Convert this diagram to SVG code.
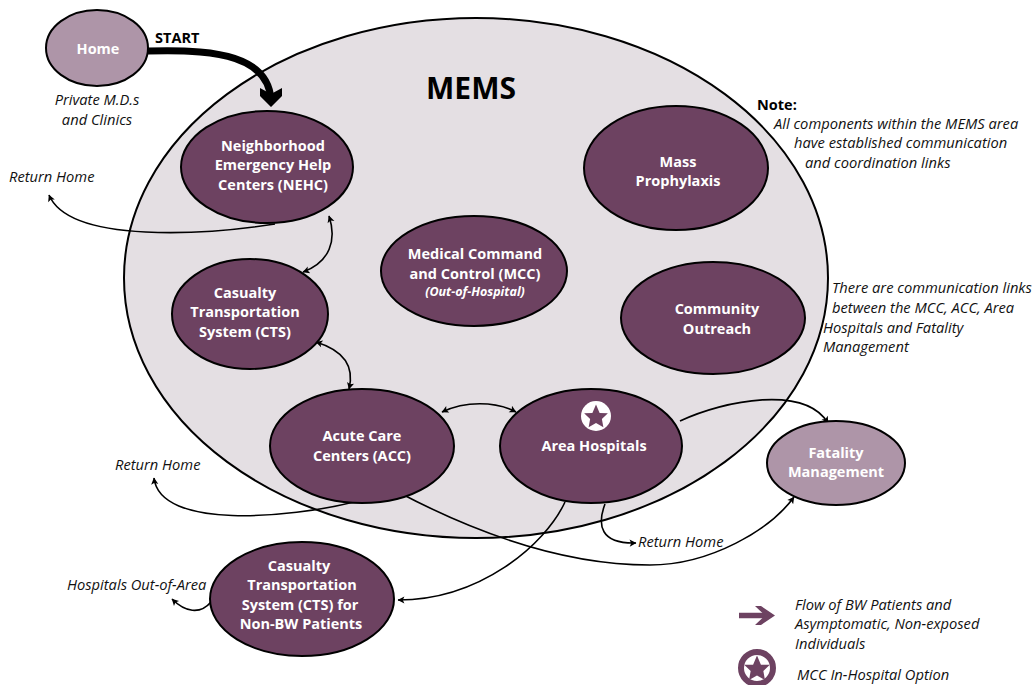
<svg xmlns="http://www.w3.org/2000/svg" width="1032" height="685" viewBox="0 0 1032 685">
<style>
.n{fill:#6d4261;stroke:#000;stroke-width:2}
.l{fill:#ae95a8;stroke:#000;stroke-width:2}
text{font-family:"Open Sans","Noto Sans","Liberation Sans",sans-serif}
.w{fill:#fff;font-size:14.5px;font-weight:700;text-anchor:middle}
.i{fill:#111;font-size:14.7px;font-style:italic}
.c{fill:none;stroke:#000;stroke-width:1.6}
</style>
<defs>
<marker id="a" viewBox="0 0 10 10" refX="9" refY="5" markerWidth="8" markerHeight="8" markerUnits="userSpaceOnUse" orient="auto-start-reverse"><path d="M1 0.500L9.500 5L1 9.500L3 5Z" fill="#000"/></marker>
<path id="star" d="M0-10L2.900-3.200L9.500-3.100L4.700 1.500L5.900 8.100L0 4.800L-5.900 8.100L-4.700 1.500L-9.500-3.100L-2.900-3.200Z"/>
</defs>
<ellipse id="mems" cx="476" cy="278" rx="352" ry="260" fill="#e4dfe3" stroke="#000" stroke-width="2"/>
<text x="471" y="99" font-size="30" font-weight="700" text-anchor="middle" fill="#000">MEMS</text>
<g id="connectors">
<path d="M148 51C200 50 268 50 271 100" fill="none" stroke="#000" stroke-width="7"/>
<path d="M260 88L271 94L282 88L282 96L271 107L260 96Z" fill="#000"/>
<path class="c" marker-end="url(#a)" d="M275 224C210 234 70 245 49 195"/>
<path class="c" marker-start="url(#a)" marker-end="url(#a)" d="M329 216C337 240 330 262 303 272"/>
<path class="c" marker-start="url(#a)" marker-end="url(#a)" d="M316 342C342 350 355 365 349 389"/>
<path class="c" marker-start="url(#a)" marker-end="url(#a)" d="M442 412C465 401 495 401 516 412"/>
<path class="c" marker-end="url(#a)" d="M680 421C725 400 805 385 828 423"/>
<path class="c" marker-end="url(#a)" d="M354 502C290 518 160 530 154 478"/>
<path class="c" marker-end="url(#a)" d="M398 492C470 530 560 565 650 565C710 565 770 530 794 497"/>
<path class="c" marker-end="url(#a)" d="M565 502C545 545 480 600 398 600"/>
<path class="c" marker-end="url(#a)" d="M605 504C597 525 600 544 636 543"/>
<path class="c" marker-end="url(#a)" d="M211 602C200 615 185 612 172 599"/>
</g>
<g id="home"><ellipse class="l" cx="97" cy="48" rx="51" ry="38"/><text class="w" x="98" y="54">Home</text></g>
<g id="nehc"><ellipse class="n" cx="267" cy="167" rx="86" ry="56"/><text class="w"><tspan x="273" y="151">Neighborhood</tspan><tspan x="273" y="170">Emergency Help</tspan><tspan x="273" y="190">Centers (NEHC)</tspan></text></g>
<g id="mass"><ellipse class="n" cx="676" cy="168" rx="92" ry="62"/><text class="w"><tspan x="678" y="167">Mass</tspan><tspan x="678" y="186">Prophylaxis</tspan></text></g>
<g id="mcc"><ellipse class="n" cx="474" cy="271" rx="93" ry="55"/><text class="w"><tspan x="475" y="259">Medical Command</tspan><tspan x="475" y="279">and Control (MCC)</tspan></text><text x="475" y="296" fill="#fff" font-size="12.500" font-weight="700" font-style="italic" text-anchor="middle">(Out-of-Hospital)</text></g>
<g id="cts"><ellipse class="n" cx="250" cy="314" rx="78" ry="55"/><text class="w"><tspan x="245" y="298">Casualty</tspan><tspan x="245" y="317">Transportation</tspan><tspan x="245" y="337">System (CTS)</tspan></text></g>
<g id="outreach"><ellipse class="n" cx="713" cy="318" rx="92" ry="56"/><text class="w"><tspan x="717" y="314">Community</tspan><tspan x="717" y="334">Outreach</tspan></text></g>
<g id="acc"><ellipse class="n" cx="362" cy="446" rx="92" ry="57"/><text class="w"><tspan x="362" y="441">Acute Care</tspan><tspan x="362" y="461">Centers (ACC)</tspan></text></g>
<g id="area"><ellipse class="n" cx="591" cy="446" rx="91" ry="57"/><circle cx="596" cy="416" r="15" fill="#fff"/><use href="#star" fill="#6d4261" transform="translate(596 417) scale(1.250)"/><text class="w" x="594" y="451">Area Hospitals</text></g>
<g id="fatality"><ellipse class="l" cx="836" cy="463" rx="69" ry="42"/><text class="w"><tspan x="836" y="458">Fatality</tspan><tspan x="836" y="477">Management</tspan></text></g>
<g id="cts2"><ellipse class="n" cx="302" cy="599" rx="92" ry="57"/><text class="w"><tspan x="299" y="571">Casualty</tspan><tspan x="302" y="590">Transportation</tspan><tspan x="300" y="610">System (CTS) for</tspan><tspan x="301" y="629">Non-BW Patients</tspan></text></g>
<g id="labels">
<text x="155" y="43" font-size="14.500" font-weight="700" fill="#000">START</text>
<text class="i" text-anchor="middle"><tspan x="97" y="105">Private M.D.s</tspan><tspan x="97" y="125">and Clinics</tspan></text>
<text class="i" x="9" y="182">Return Home</text>
<text class="i" x="115" y="470">Return Home</text>
<text class="i" x="638" y="547">Return Home</text>
<text class="i" x="67" y="590">Hospitals Out-of-Area</text>
<text x="757" y="110" font-size="14.500" font-weight="700" fill="#000">Note:</text>
<text class="i"><tspan x="774" y="129">All components within the MEMS area</tspan><tspan x="794" y="148">have established communication</tspan><tspan x="805" y="168">and coordination links</tspan></text>
<text class="i"><tspan x="832" y="293">There are communication links</tspan><tspan x="832" y="313">between the MCC, ACC, Area</tspan><tspan x="823" y="333">Hospitals and Fatality</tspan><tspan x="823" y="352">Management</tspan></text>
<text class="i"><tspan x="795" y="610">Flow of BW Patients and</tspan><tspan x="795" y="629">Asymptomatic, Non-exposed</tspan><tspan x="795" y="649">Individuals</tspan><tspan x="797" y="680">MCC In-Hospital Option</tspan></text>
</g>
<g id="legend">
<path d="M739 615.500H768" stroke="#6d4261" stroke-width="5.500" fill="none"/>
<path d="M755 606H761L775 615.500L761 625H755L765 615.500Z" fill="#6d4261"/>
<circle cx="757" cy="668" r="16" fill="none" stroke="#6d4261" stroke-width="6"/>
<use href="#star" fill="#6d4261" transform="translate(757 669) scale(1.350)"/>
</g>
</svg>
